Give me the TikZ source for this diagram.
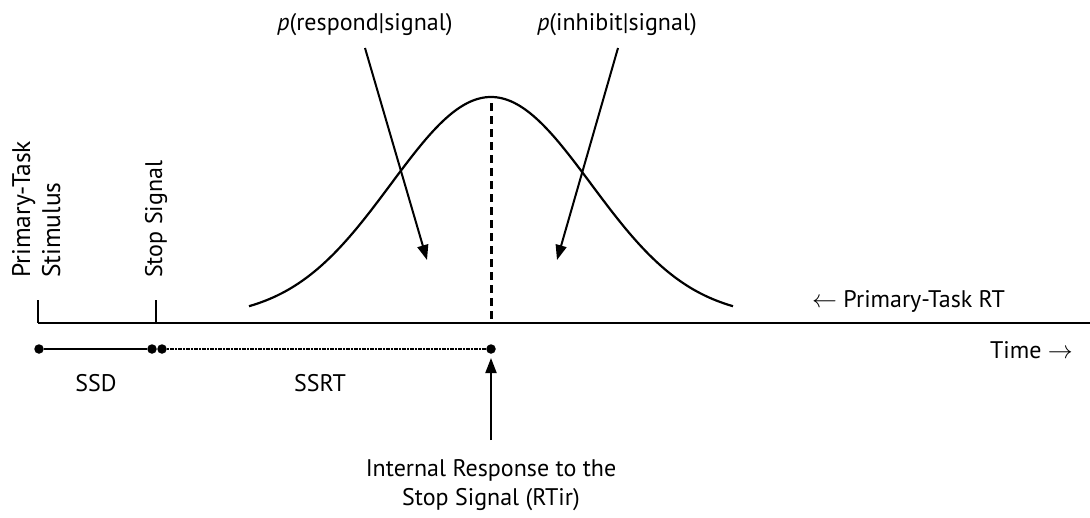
\documentclass[tikz,border=0pt]{standalone}
\usepackage{fontspec}
\setmainfont{PT Sans}
\usetikzlibrary{arrows.meta}
\begin{document}
\begin{tikzpicture}[x=1pt,y=-1pt,
  lbl/.style={font=\fontsize{24}{29}\selectfont, inner sep=0pt},
  axisline/.style={line width=2.8pt},
  tickline/.style={line width=2pt},
  curveline/.style={line width=2.2pt},
  arr/.style={line width=2pt,-{Triangle[length=15pt,width=11pt]}},
  dot/.style={circle,fill=black,inner sep=0pt,minimum size=9.5pt},
  ssrtline/.style={line width=2.6pt,dash pattern=on 2pt off 1pt on 4pt off 1pt},
  peakline/.style={line width=3pt,dash pattern=on 8pt off 5pt},
]
\useasboundingbox (0,0) rectangle (1090,517);
% axis
\coordinate (a0) at (38,323);
\coordinate (aS) at (156,323);
\coordinate (aP) at (491,323);
\coordinate (aE) at (1090,323);
\coordinate (t0) at (38,300);
\coordinate (tS) at (156,300);
\draw[axisline] (a0) -- (aE);
\draw[tickline] (t0) -- (a0);
\draw[tickline] (tS) -- (aS);
% rotated labels
\node[lbl, font=\fontsize{25.5}{30}\selectfont, rotate=90, anchor=base west, align=left] (stim) at (60,278) {Primary-Task\\Stimulus};
\node[lbl, rotate=90, anchor=base west] (stop) at (162,278) {Stop Signal};
% curve
\draw[curveline] plot[domain=-242:242, samples=120, smooth] ({491+\x},{318-221*exp(-0.5*(\x/100)*(\x/100))});
\coordinate (peak) at (491,103);
\draw[peakline] (peak) -- (aP);
% probability labels
\node[lbl, anchor=base] (presp) at (365,30) {\textit{p}(respond|signal)};
\node[lbl, anchor=base] (pinh) at (617,30) {\textit{p}(inhibit|signal)};
\coordinate (aLs) at (365,48);
\coordinate (aLe) at (427,260);
\coordinate (aRs) at (618,48);
\coordinate (aRe) at (557,260);
\draw[arr] (aLs) -- (aLe);
\draw[arr] (aRs) -- (aRe);
% right labels
\node[lbl, anchor=base west] (prt) at (812,307) {$\leftarrow$ Primary-Task RT};
\node[lbl, anchor=base east] (time) at (1073,358) {Time $\rightarrow$};
% intervals
\node[dot] (d0) at (39,349) {};
\node[dot] (d1) at (152,349) {};
\node[dot] (d2) at (162,349) {};
\node[dot] (d3) at (491,349) {};
\draw[tickline] (d0) -- (d1);
\draw[ssrtline] (d2) -- (d3);
\node[lbl, anchor=base] (ssd) at (96,391) {SSD};
\node[lbl, anchor=base] (ssrt) at (320,391) {SSRT};
% internal response
\coordinate (irs) at (491,440);
\coordinate (ire) at (491,358);
\draw[arr] (irs) -- (ire);
\node[lbl, anchor=north, align=center] (irt) at (491,459) {Internal Response to the\\Stop Signal (RTir)};
\end{tikzpicture}
\end{document}
